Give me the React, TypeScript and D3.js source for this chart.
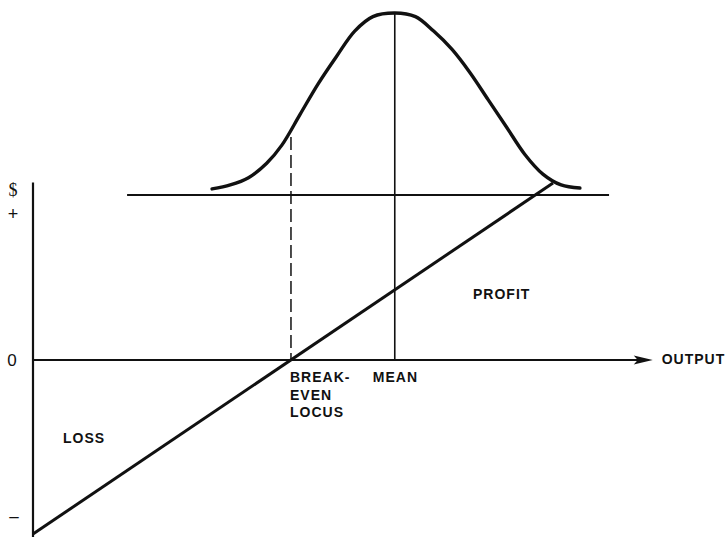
import React, { useEffect } from "react";
import * as d3 from "d3";

// ---- data (abstract units) ----
const outputDomain = [0, 100];
const profitDomain = [-1, 1];
const breakEven = 42.5;
const meanOutput = 59.6;
const profitLine = [
  { x: 0, p: -1 },
  { x: 85.67, p: 1.017 },
];
const axisExtent = [-1.02, 1.02];
const outputAxisEnd = 102.1;
const distBaselineProfit = 0.948;
const distBaselineRange = [15.5, 94.9];
const curveX = [29.5, 32.5, 35.5, 38.5, 41, 44, 47, 50, 53, 56, 59.6, 63, 66, 69, 72, 75, 78, 81, 84, 87, 90.1];
const curveD = [0.028, 0.05, 0.09, 0.17, 0.27, 0.44, 0.61, 0.76, 0.9, 0.98, 1, 0.98, 0.9, 0.8, 0.67, 0.52, 0.37, 0.22, 0.11, 0.05, 0.033];
const breakEvenDensity = 0.315;
const labels = ["BREAK-", "EVEN", "LOCUS"];

const W = 726;
const H = 537;
const FONT = "'Liberation Sans', Arial, Helvetica, sans-serif";

export default function App() {
  useEffect(() => {
    document.body.style.margin = "0";
  }, []);

  const x = d3.scaleLinear().domain(outputDomain).range([33, 640]);
  const yP = d3.scaleLinear().domain(profitDomain).range([534, 186]);
  const yD = d3.scaleLinear().domain([0, 1]).range([194, 13]);

  const curvePts = curveX.map((v, i) => [v, curveD[i]] as [number, number]);
  const curvePath = d3
    .line<[number, number]>()
    .x((d) => x(d[0]))
    .y((d) => yD(d[1]))
    .curve(d3.curveCatmullRom.alpha(0.5))(curvePts);

  const profitPath = d3
    .line<{ x: number; p: number }>()
    .x((d) => x(d.x))
    .y((d) => yP(d.p))(profitLine);

  const zeroY = yP(0);
  const arrowTip = x(outputAxisEnd);

  const txt = {
    fontFamily: FONT,
    fontSize: 14,
    fontWeight: "bold" as const,
    letterSpacing: 1,
    fill: "#111",
  };

  return (
    <svg width={W} height={H} style={{ display: "block", background: "#fff" }}>
      {/* y axis */}
      <line x1={x(0)} x2={x(0)} y1={yP(axisExtent[1])} y2={yP(axisExtent[0])} stroke="#111" strokeWidth={2.2} />
      {/* output axis */}
      <line x1={x(0)} x2={arrowTip - 10} y1={zeroY} y2={zeroY} stroke="#111" strokeWidth={1.8} />
      <path
        d={`M${arrowTip},${zeroY} L${arrowTip - 19},${zeroY - 4.5} L${arrowTip - 15},${zeroY} L${arrowTip - 19},${zeroY + 4.5} Z`}
        fill="#111"
      />
      {/* distribution baseline */}
      <line
        x1={x(distBaselineRange[0])}
        x2={x(distBaselineRange[1])}
        y1={yP(distBaselineProfit)}
        y2={yP(distBaselineProfit)}
        stroke="#111"
        strokeWidth={2}
      />
      {/* profit line */}
      <path d={profitPath || ""} fill="none" stroke="#111" strokeWidth={3} />
      {/* distribution curve */}
      <path d={curvePath || ""} fill="none" stroke="#111" strokeWidth={3.4} strokeLinecap="round" strokeLinejoin="round" />
      {/* mean line */}
      <line x1={x(meanOutput)} x2={x(meanOutput)} y1={yD(1)} y2={zeroY} stroke="#111" strokeWidth={1.6} />
      {/* break-even dashed */}
      <line
        x1={x(breakEven)}
        x2={x(breakEven)}
        y1={yD(breakEvenDensity)}
        y2={zeroY}
        stroke="#111"
        strokeWidth={1.5}
        strokeDasharray="13,5"
      />
      {/* axis symbols */}
      <text x={13} y={196} textAnchor="middle" fontFamily="'Liberation Serif', serif" fontSize={18} fill="#111">$</text>
      <text x={13} y={220} textAnchor="middle" fontFamily={FONT} fontSize={18} fill="#111">+</text>
      <text x={12} y={366} textAnchor="middle" fontFamily={FONT} fontSize={17} fill="#111">0</text>
      <text x={14} y={522} textAnchor="middle" fontFamily={FONT} fontSize={17} fill="#111">–</text>
      {/* labels */}
      <text x={arrowTip + 9} y={zeroY + 4} {...txt}>OUTPUT</text>
      {labels.map((l, i) => (
        <text key={l} x={x(breakEven) - 1} y={382 + i * 17.5} {...txt}>{l}</text>
      ))}
      <text x={x(meanOutput) - 22} y={382} {...txt}>MEAN</text>
      <text x={473} y={299} {...txt}>PROFIT</text>
      <text x={63} y={443} {...txt}>LOSS</text>
    </svg>
  );
}
